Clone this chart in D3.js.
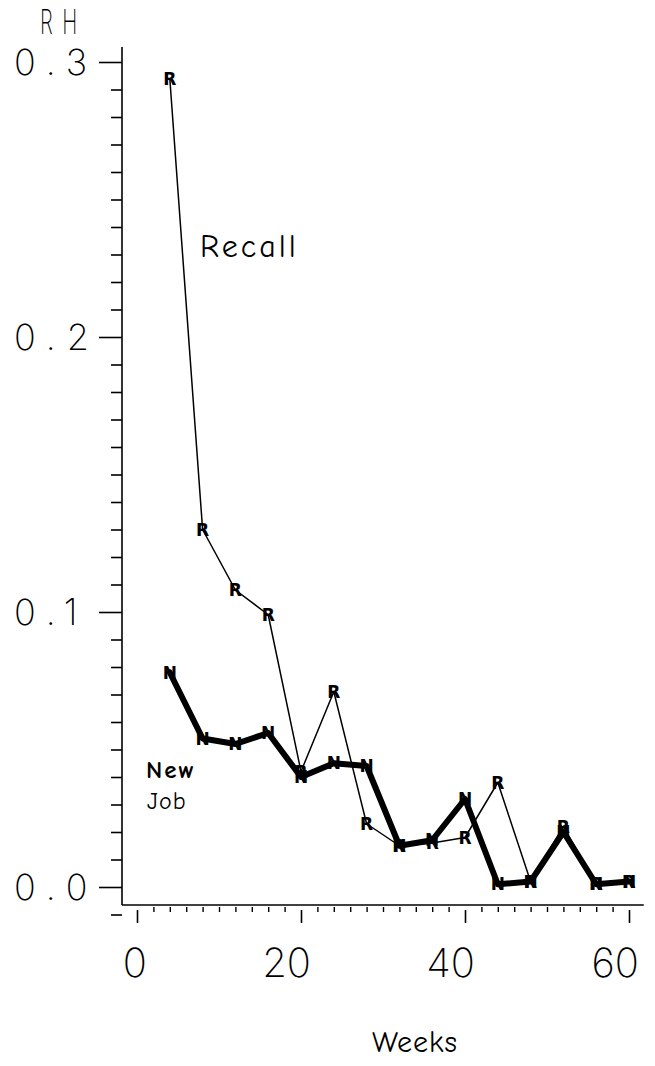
<!DOCTYPE html>
<html><head><meta charset="utf-8">
<script src="https://cdn.jsdelivr.net/npm/d3@7"></script>
<style>body{margin:0;background:#fff}</style>
</head><body>
<svg id="c" width="655" height="1066"></svg>
<script>
const weeks = [4, 8, 12, 16, 20, 24, 28, 32, 36, 40, 44, 48, 52, 56, 60];
const recall = [0.294, 0.130, 0.108, 0.099, 0.042, 0.071, 0.023, 0.015, 0.016, 0.018, 0.038, 0.002, 0.022, 0.001, 0.002];
const newJob = [0.078, 0.054, 0.052, 0.056, 0.040, 0.045, 0.044, 0.015, 0.017, 0.032, 0.001, 0.002, 0.020, 0.001, 0.002];
const yMajor = [0, 0.1, 0.2, 0.3];
const xMajor = [0, 20, 40, 60];
const yLabels = ["0.0", "0.1", "0.2", "0.3"];
const xLabels = ["0", "20", "40", "60"];

const svg = d3.select("#c");
const x = d3.scaleLinear().domain([0, 60]).range([137, 629]);
const y = d3.scaleLinear().domain([0, 0.3]).range([887, 62]);
const font = "Inter, 'Liberation Sans', sans-serif";

// axis lines
const axX0 = 122, axY0 = 905;
svg.append("line").attr("x1", axX0).attr("x2", axX0).attr("y1", y(0.3055)).attr("y2", axY0)
  .attr("stroke", "#000").attr("stroke-width", 1.6);
svg.append("line").attr("x1", axX0).attr("x2", x(61.8)).attr("y1", axY0).attr("y2", axY0)
  .attr("stroke", "#000").attr("stroke-width", 1.6);

// y ticks
const yMinor = d3.range(-1, 31).map(i => i / 100).filter(v => !yMajor.some(m => Math.abs(m - v) < 1e-9));
svg.append("g").attr("transform", `translate(${axX0},0)`)
  .call(d3.axisLeft(y).tickValues(yMinor).tickSize(11).tickFormat(""))
  .call(g => g.select(".domain").remove())
  .selectAll("line").attr("stroke", "#000").attr("stroke-width", 1.6);
svg.append("g").attr("transform", `translate(${axX0},0)`)
  .call(d3.axisLeft(y).tickValues(yMajor).tickSize(23).tickFormat(""))
  .call(g => g.select(".domain").remove())
  .selectAll("line").attr("stroke", "#000").attr("stroke-width", 1.6);

// y labels
svg.selectAll("text.ylab").data(yMajor).enter().append("text")
  .attr("class", "ylab")
  .attr("x", 14).attr("y", d => y(d) + 13)
  .attr("font-family", font).attr("font-weight", 200)
  .attr("font-size", 36).attr("letter-spacing", 11)
  .attr("fill", "#000")
  .text((d, i) => yLabels[i]);

// x ticks
const xMinor = d3.range(2, 61, 2).filter(v => !xMajor.includes(v));
svg.append("g").attr("transform", `translate(0,${axY0 + 2})`)
  .call(d3.axisBottom(x).tickValues(xMinor).tickSize(5).tickFormat(""))
  .call(g => g.select(".domain").remove())
  .selectAll("line").attr("stroke", "#000").attr("stroke-width", 1.4);
svg.append("g").attr("transform", `translate(0,${axY0 + 5})`)
  .call(d3.axisBottom(x).tickValues(xMajor).tickSize(13).tickFormat(""))
  .call(g => g.select(".domain").remove())
  .selectAll("line").attr("stroke", "#000").attr("stroke-width", 1.6);

// x labels
svg.selectAll("text.xlab").data(xMajor).enter().append("text")
  .attr("class", "xlab")
  .attr("x", d => x(d) + 10).attr("y", 977)
  .attr("text-anchor", "end")
  .attr("font-family", font).attr("font-weight", 200)
  .attr("font-size", 40)
  .attr("fill", "#000")
  .text((d, i) => xLabels[i]);

// RH label
svg.append("text")
  .attr("transform", "translate(40,34) scale(0.6,1)")
  .attr("font-family", font).attr("font-weight", 200)
  .attr("font-size", 34).attr("letter-spacing", 16).attr("fill", "#000")
  .text("RH");

// lines
const idx = d3.range(weeks.length);
const line = arr => d3.line().x(i => x(weeks[i])).y(i => y(arr[i]))(idx);
svg.append("path").attr("d", line(recall)).attr("fill", "none")
  .attr("stroke", "#000").attr("stroke-width", 1.5).attr("stroke-linejoin", "round");
svg.append("path").attr("d", line(newJob)).attr("fill", "none")
  .attr("stroke", "#000").attr("stroke-width", 6).attr("stroke-linejoin", "round").attr("stroke-linecap", "round");

// markers
const mk = (arr, ch, cls) => svg.selectAll("text." + cls).data(idx).enter().append("text")
  .attr("class", cls)
  .attr("x", i => x(weeks[i])).attr("y", i => y(arr[i]))
  .attr("text-anchor", "middle").attr("dominant-baseline", "central")
  .attr("font-family", "'DejaVu Sans', sans-serif").attr("font-weight", "bold")
  .attr("font-size", 17).attr("fill", "#000")
  .text(ch);
mk(recall, "R", "rm");
mk(newJob, "N", "nm");

// series labels
const hand = "'Comic Neue', 'DejaVu Sans', sans-serif";
svg.append("text").attr("x", 200).attr("y", 257).attr("font-family", hand)
  .attr("font-size", 32).attr("letter-spacing", 3).attr("fill", "#000").text("Recall");
svg.append("text").attr("x", 146).attr("y", 778).attr("font-family", hand)
  .attr("font-size", 25).attr("font-weight", "bold").attr("letter-spacing", 2).attr("fill", "#000").text("New");
svg.append("text").attr("x", 147).attr("y", 809).attr("font-family", hand)
  .attr("font-size", 24).attr("letter-spacing", 1).attr("fill", "#000").text("Job");

// axis title
svg.append("text").attr("x", 372).attr("y", 1052).attr("font-family", hand)
  .attr("font-size", 30).attr("letter-spacing", 1).attr("fill", "#000").text("Weeks");
</script>
</body></html>
